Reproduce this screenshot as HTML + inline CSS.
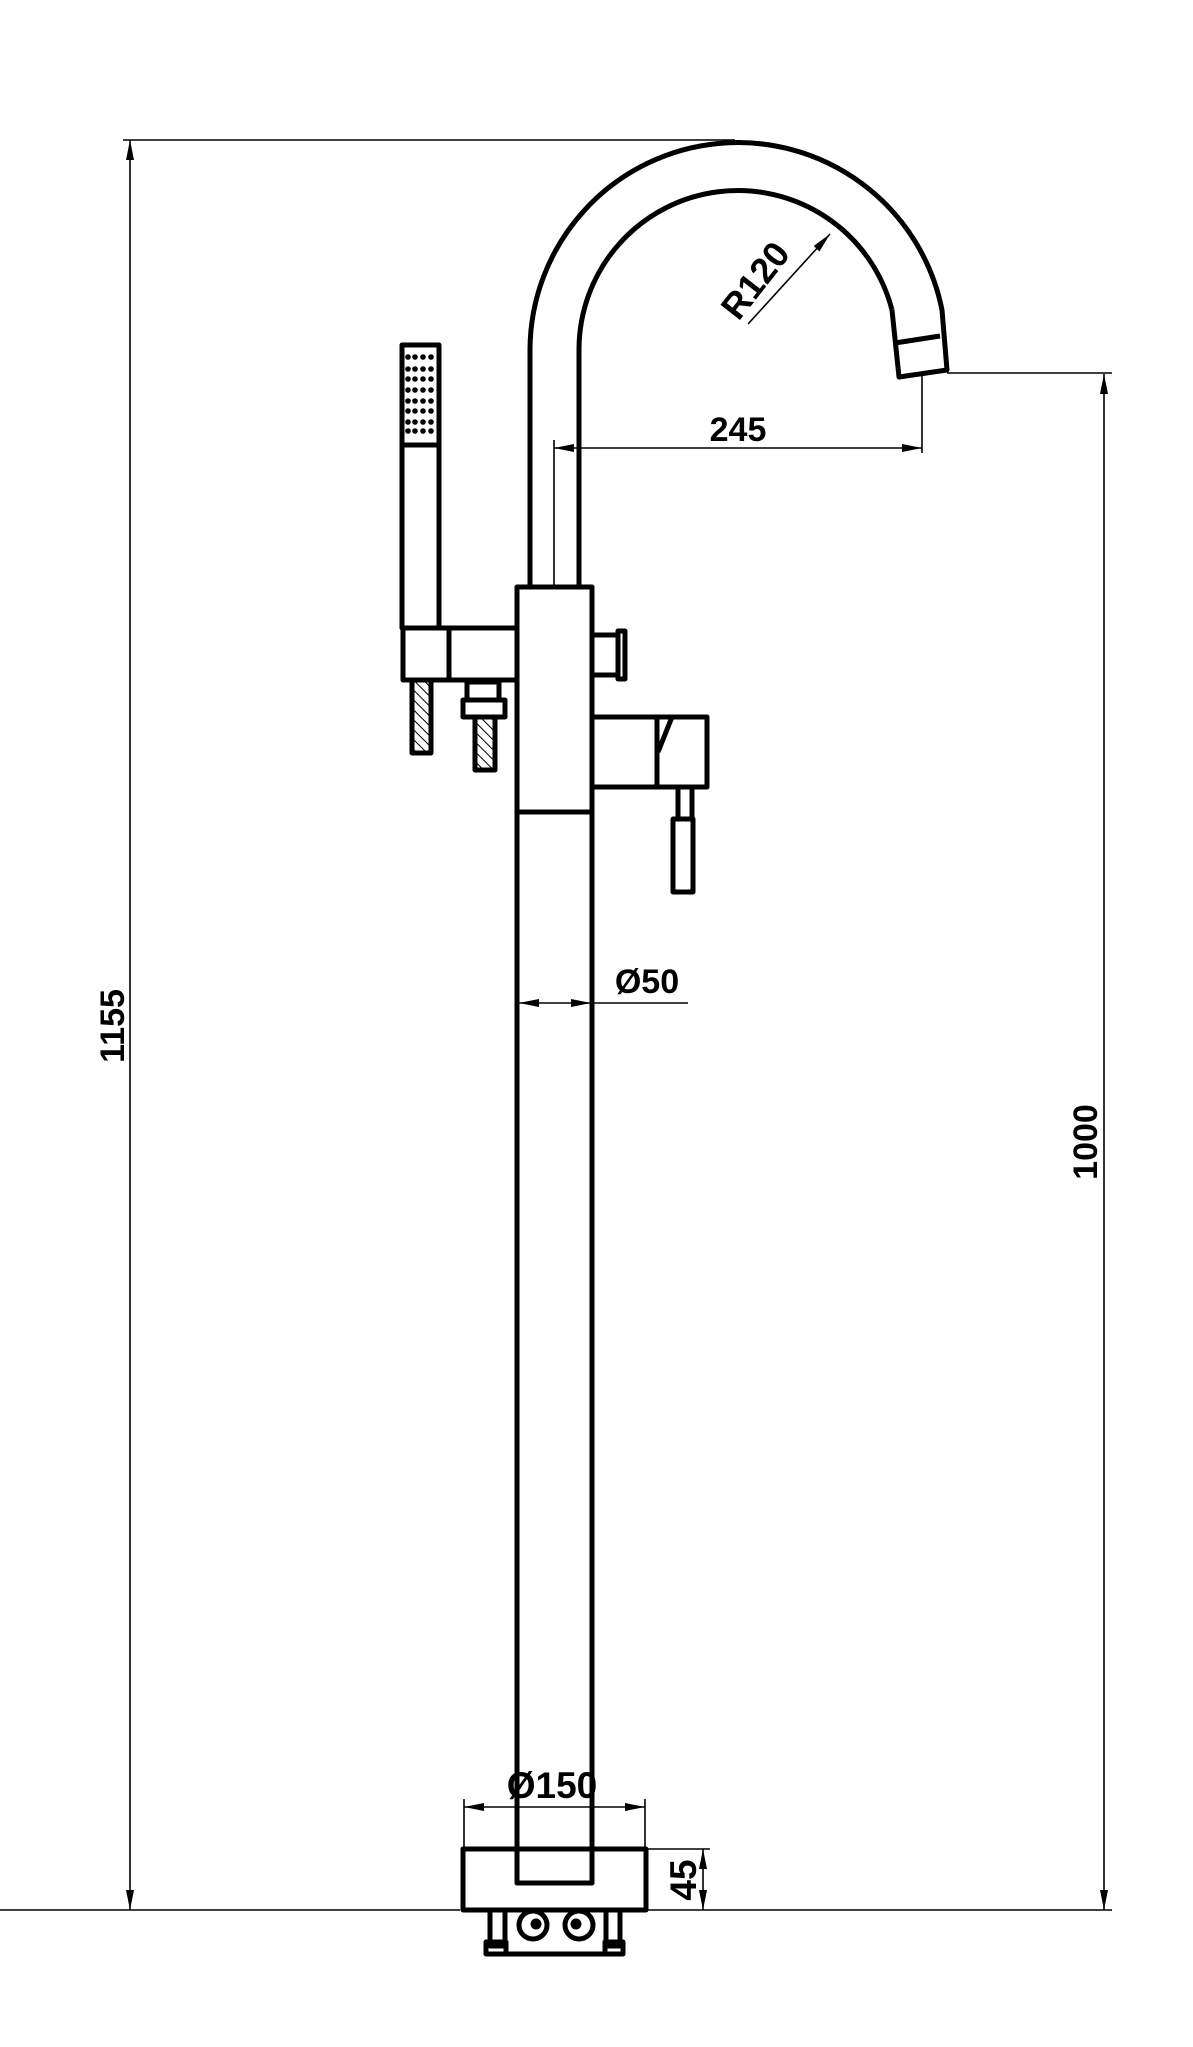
<!DOCTYPE html>
<html><head><meta charset="utf-8"><style>
html,body{margin:0;padding:0;background:#fff}
svg{display:block}
text{font-family:"Liberation Sans",sans-serif;font-weight:bold;fill:#000}
</style></head><body>
<svg width="1193" height="2047" viewBox="0 0 1193 2047" xmlns="http://www.w3.org/2000/svg">
<defs>
<marker id="a" viewBox="0 0 20 8" refX="20" refY="4" markerWidth="20" markerHeight="8" markerUnits="userSpaceOnUse" orient="auto-start-reverse"><path d="M0,0 L20,4 L0,8 z" fill="#000"/></marker>
<pattern id="h" width="7" height="7" patternUnits="userSpaceOnUse" patternTransform="rotate(-45)"><rect width="7" height="7" fill="#fff"/><line x1="0" y1="0" x2="0" y2="7" stroke="#000" stroke-width="2"/></pattern>
</defs>
<g fill="none" stroke="#000" stroke-width="5" stroke-linejoin="round">
<path d="M530,585 L530,349 A208,208 0 0 1 942,310 L947,370 L899,377 L892,310"/>
<path d="M579,585 L579,349 A159,159 0 0 1 892,310"/>
<line x1="895" y1="343" x2="940" y2="336"/>
<rect x="517" y="587" width="75" height="1296"/>
<line x1="517" y1="812" x2="592" y2="812"/>
<rect x="463" y="1849" width="183" height="61"/>
<rect x="490" y="1910" width="15" height="36"/>
<rect x="606" y="1910" width="14" height="36"/>
<rect x="486" y="1942" width="20" height="12"/>
<rect x="605" y="1942" width="18" height="12"/>
<line x1="506" y1="1954" x2="605" y2="1954"/>
<circle cx="533" cy="1925" r="14"/><circle cx="579" cy="1925" r="14"/>
<circle cx="536" cy="1924" r="3" fill="#000"/><circle cx="576" cy="1924" r="3" fill="#000"/>
<rect x="402" y="345" width="37" height="283"/>
<line x1="402" y1="445" x2="439" y2="445"/>
<rect x="403" y="628" width="114" height="52"/>
<line x1="449" y1="628" x2="449" y2="680"/>
<rect x="412" y="680" width="19" height="73" fill="url(#h)"/>
<rect x="467" y="682" width="32" height="18"/>
<rect x="463" y="700" width="42" height="17"/>
<rect x="475" y="717" width="20" height="53" fill="url(#h)"/>
<rect x="592" y="635" width="26" height="40"/>
<rect x="618" y="631" width="7" height="48"/>
<rect x="592" y="717" width="115" height="70"/>
<line x1="657" y1="717" x2="657" y2="787"/>
<line x1="672" y1="717" x2="658" y2="752"/>
<rect x="678" y="787" width="14" height="32"/>
<rect x="673" y="819" width="20" height="73"/>
</g>
<g fill="#000">
<circle cx="408" cy="357" r="2.8"/><circle cx="415" cy="357" r="2.8"/><circle cx="423" cy="357" r="2.8"/><circle cx="431" cy="357" r="2.8"/>
<circle cx="408" cy="369" r="2.8"/><circle cx="415" cy="369" r="2.8"/><circle cx="423" cy="369" r="2.8"/><circle cx="431" cy="369" r="2.8"/>
<circle cx="408" cy="379" r="2.8"/><circle cx="415" cy="379" r="2.8"/><circle cx="423" cy="379" r="2.8"/><circle cx="431" cy="379" r="2.8"/>
<circle cx="408" cy="390" r="2.8"/><circle cx="415" cy="390" r="2.8"/><circle cx="423" cy="390" r="2.8"/><circle cx="431" cy="390" r="2.8"/>
<circle cx="408" cy="401" r="2.8"/><circle cx="415" cy="401" r="2.8"/><circle cx="423" cy="401" r="2.8"/><circle cx="431" cy="401" r="2.8"/>
<circle cx="408" cy="411" r="2.8"/><circle cx="415" cy="411" r="2.8"/><circle cx="423" cy="411" r="2.8"/><circle cx="431" cy="411" r="2.8"/>
<circle cx="408" cy="422" r="2.8"/><circle cx="415" cy="422" r="2.8"/><circle cx="423" cy="422" r="2.8"/><circle cx="431" cy="422" r="2.8"/>
<circle cx="408" cy="431" r="2.8"/><circle cx="415" cy="431" r="2.8"/><circle cx="423" cy="431" r="2.8"/><circle cx="431" cy="431" r="2.8"/>
</g>
<g stroke="#000" stroke-width="1.6" fill="none">
<line x1="123" y1="140" x2="735" y2="140"/>
<line x1="130" y1="140" x2="130" y2="1910" marker-start="url(#a)" marker-end="url(#a)"/>
<line x1="0" y1="1910" x2="460" y2="1910"/>
<line x1="646" y1="1910" x2="1112" y2="1910"/>
<line x1="947" y1="373" x2="1112" y2="373"/>
<line x1="1104" y1="374" x2="1104" y2="1910" marker-start="url(#a)" marker-end="url(#a)"/>
<line x1="554" y1="440" x2="554" y2="585"/>
<line x1="922" y1="375" x2="922" y2="453"/>
<line x1="554" y1="448" x2="922" y2="448" marker-start="url(#a)" marker-end="url(#a)"/>
<line x1="748" y1="324" x2="830" y2="234" marker-end="url(#a)"/>
<line x1="519" y1="1003" x2="555" y2="1003" marker-start="url(#a)"/>
<line x1="555" y1="1003" x2="591" y2="1003" marker-end="url(#a)"/>
<line x1="592" y1="1003" x2="688" y2="1003"/>
<line x1="464" y1="1799" x2="464" y2="1849"/>
<line x1="645" y1="1799" x2="645" y2="1849"/>
<line x1="464" y1="1807" x2="645" y2="1807" marker-start="url(#a)" marker-end="url(#a)"/>
<line x1="646" y1="1849" x2="710" y2="1849"/>
<line x1="703" y1="1849" x2="703" y2="1910" marker-start="url(#a)" marker-end="url(#a)"/>
</g>
<g font-size="34">
<text x="738" y="441" text-anchor="middle">245</text>
<text x="647" y="993" text-anchor="middle">Ø50</text>
<text x="552" y="1798" text-anchor="middle" font-size="37">Ø150</text>
<text transform="translate(124,1026) rotate(-90)" text-anchor="middle">1155</text>
<text transform="translate(1097,1142) rotate(-90)" text-anchor="middle">1000</text>
<text transform="translate(696,1880) rotate(-90)" text-anchor="middle" font-size="37">45</text>
<text transform="translate(765,288) rotate(-52)" text-anchor="middle" font-size="36">R120</text>
</g>
</svg>
</body></html>
